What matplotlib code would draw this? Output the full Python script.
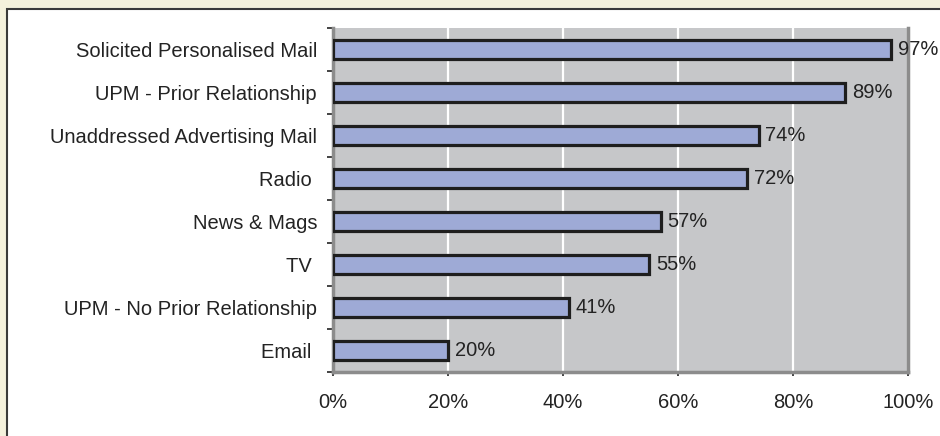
import matplotlib
matplotlib.use("Agg")
import matplotlib.pyplot as plt
import numpy as np
from matplotlib.patches import Rectangle
from matplotlib.ticker import FixedLocator

# channel names, top to bottom, and share of respondents (%)
channels = ["Solicited Personalised Mail", "UPM - Prior Relationship",
            "Unaddressed Advertising Mail", "Radio ", "News & Mags", "TV ",
            "UPM - No Prior Relationship", "Email "]
shares = [97, 89, 74, 72, 57, 55, 41, 20]
xticks = [0, 20, 40, 60, 80, 100]
xlabels = ["0%", "20%", "40%", "60%", "80%", "100%"]

plt.rcParams['font.family'] = ['Liberation Sans', 'DejaVu Sans']
txt = '#232323'

fig = plt.figure(figsize=(9.4, 4.36), dpi=100)
fig.patch.set_facecolor('#f4f1dc')

# white card behind the chart
W, H = 940.0, 436.0
card = Rectangle((6.5 / W, -0.05), 1.0, (H - 9.5) / H + 0.05,
                 transform=fig.transFigure, facecolor='white',
                 edgecolor='#3a3a3a', linewidth=1.5, zorder=-5)
fig.patches.append(card)

ax = fig.add_axes([333 / W, (H - 372) / H, (908 - 333) / W, (372 - 28) / H])
ax.set_zorder(1)
ax.set_facecolor('#c6c7c9')

y = np.arange(len(channels))
ax.barh(y, shares, height=0.42, color='#9eaad6', edgecolor='#1e1e1e',
        linewidth=2.3, zorder=3)

for yi, v in zip(y, shares):
    ax.text(v + 1.2, yi, f"{v}%", va='center', ha='left', fontsize=14.5,
            color=txt, zorder=4, clip_on=False)

ax.set_xlim(0, 100)
ax.set_ylim(len(channels) - 0.5, -0.5)

ax.set_xticks(xticks)
ax.set_xticklabels(xlabels)
ax.set_yticks(y)
ax.set_yticklabels(channels)
ax.yaxis.set_minor_locator(FixedLocator(np.arange(-0.5, len(channels), 1)))

ax.tick_params(axis='y', which='major', length=0, pad=11.5, labelsize=14.5,
               labelcolor=txt)
ax.tick_params(axis='y', which='minor', length=4, width=1.2, color='#222222',
               direction='out')
ax.tick_params(axis='x', length=3, width=1.2, color='#222222', pad=12,
               labelsize=14.5, labelcolor=txt)

ax.grid(axis='x', color='white', linewidth=1.6, zorder=1)
ax.set_axisbelow(True)

ax.spines['top'].set_visible(False)
for side in ('left', 'bottom', 'right'):
    ax.spines[side].set_color('#8c8c8c')
    ax.spines[side].set_linewidth(2.5)

fig.savefig('out.png', dpi=100, facecolor=fig.get_facecolor())
